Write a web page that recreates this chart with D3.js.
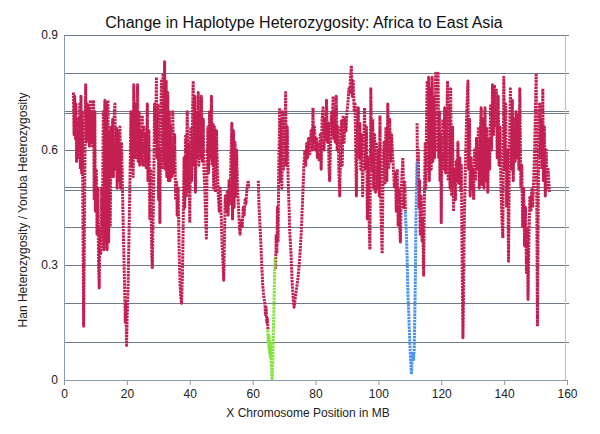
<!DOCTYPE html>
<html>
<head>
<meta charset="utf-8">
<script src="https://cdn.jsdelivr.net/npm/d3@7"></script>
<style>
  html, body { margin: 0; padding: 0; background: #fff; }
  svg { display: block; }
  text { font-family: "Liberation Sans", Arial, Helvetica, sans-serif; }
</style>
</head>
<body>
<svg id="chart" width="600" height="434"></svg>
<script>
// ---- data (MB position, Han/Yoruba heterozygosity ratio) ----
const title = "Change in Haplotype Heterozygosity: Africa to East Asia";
const xLabel = "X Chromosome Position in MB";
const yLabel = "Han Heterozygosity / Yoruba Heterozygosity";
const xTicks = [0, 20, 40, 60, 80, 100, 120, 140, 160];
const yTicks = [0, 0.3, 0.6, 0.9];
const gridValues = [0.1, 0.2, 0.3, 0.4, 0.496, 0.503, 0.6, 0.697, 0.702, 0.8, 0.9];

const redSeries = [
[3.0,0.75],[3.2,0.64],[3.4,0.74],[3.6,0.63],[3.8,0.72],[4.0,0.57],[4.2,0.66],[4.4,0.58],[4.6,0.68],[4.8,0.60],
[5.0,0.72],[5.2,0.55],[5.4,0.74],[5.6,0.54],[5.8,0.70],[6.0,0.45],[6.25,0.14],[6.5,0.40],[6.7,0.62],[6.9,0.77],
[7.1,0.62],[7.4,0.72],[7.6,0.63],[7.9,0.71],[8.1,0.61],[8.4,0.73],[8.6,0.62],[8.9,0.70],[9.1,0.61],[9.4,0.73],
[9.6,0.47],[9.8,0.70],[10.0,0.44],[10.3,0.55],[10.5,0.38],[10.8,0.50],[11.0,0.30],[11.2,0.24],[11.4,0.40],[11.7,0.33],
[12.0,0.50],[12.2,0.38],[12.5,0.70],[12.7,0.34],[13.0,0.73],[13.2,0.36],[13.5,0.72],[13.7,0.34],[14.0,0.73],[14.2,0.36],
[14.5,0.65],[14.7,0.40],[15.0,0.66],[15.2,0.53],[15.5,0.68],[15.7,0.53],[16.0,0.70],[16.2,0.72],[16.4,0.55],[16.7,0.66],
[16.9,0.50],[17.2,0.65],[17.5,0.52],[17.8,0.66],[18.0,0.50],[18.3,0.62],[18.6,0.50],[18.9,0.38],[19.2,0.27],[19.5,0.15],
[19.7,0.20],[19.9,0.09],[20.1,0.17],[20.4,0.25],[20.7,0.39],[21.0,0.53],[21.3,0.70],[21.5,0.56],[21.8,0.70],[22.0,0.53],
[22.2,0.77],[22.4,0.58],[22.7,0.72],[22.9,0.58],[23.2,0.70],[23.4,0.77],[23.6,0.57],[23.9,0.70],[24.1,0.56],[24.4,0.65],
[24.6,0.58],[24.9,0.69],[25.1,0.56],[25.4,0.66],[25.6,0.56],[25.9,0.64],[26.2,0.55],[26.5,0.72],[26.7,0.52],[27.0,0.65],
[27.3,0.42],[27.6,0.55],[27.9,0.33],[28.1,0.29],[28.3,0.40],[28.6,0.55],[28.8,0.72],[29.1,0.62],[29.4,0.79],[29.6,0.58],
[29.9,0.72],[30.1,0.47],[30.3,0.60],[30.5,0.41],[30.7,0.65],[31.0,0.78],[31.2,0.55],[31.5,0.80],[31.7,0.57],[32.0,0.83],
[32.2,0.55],[32.5,0.78],[32.7,0.53],[33.0,0.75],[33.2,0.52],[33.5,0.70],[33.7,0.52],[34.0,0.66],[34.3,0.53],[34.6,0.70],
[34.9,0.54],[35.2,0.64],[35.5,0.47],[35.8,0.52],[36.0,0.43],[36.3,0.50],[36.6,0.35],[36.9,0.25],[37.1,0.22],[37.4,0.20],
[37.7,0.28],[37.9,0.40],[38.2,0.58],[38.4,0.45],[38.7,0.64],[38.9,0.48],[39.2,0.70],[39.5,0.50],
[39.7,0.62],[40.0,0.41],[40.3,0.66],[40.6,0.52],[40.9,0.70],[41.1,0.78],[41.3,0.56],[41.6,0.74],[41.8,0.49],[42.1,0.70],
[42.4,0.58],[42.7,0.75],[42.9,0.56],[43.2,0.70],[43.5,0.58],[43.7,0.74],[44.0,0.57],[44.3,0.68],[44.5,0.55],[44.8,0.50],
[45.0,0.43],[45.3,0.37],[45.5,0.55],[45.8,0.66],[46.0,0.54],[46.3,0.70],[46.6,0.58],[46.9,0.74],[47.1,0.56],[47.4,0.67],
[47.6,0.50],[47.9,0.66],[48.2,0.49],[48.5,0.65],[48.8,0.55],[49.1,0.48],[49.4,0.44],[49.7,0.50],[50.0,0.43],[50.3,0.35],
[50.6,0.30],[50.8,0.26],[51.0,0.35],[51.3,0.48],[51.6,0.44],[51.9,0.49],[52.2,0.43],[52.5,0.52],[52.8,0.46],[53.1,0.58],
[53.4,0.67],[53.6,0.42],[53.9,0.65],[54.1,0.45],[54.4,0.62],[54.7,0.48],[54.9,0.60],[55.2,0.50],[55.5,0.45],[55.8,0.40],
[56.0,0.38],[56.3,0.42],[56.7,0.40],[57.0,0.45],[57.3,0.43],[57.6,0.47],[57.9,0.46],[58.2,0.50],[58.6,0.52],[58.8,0.50],
[60.3,null],
[61.8,0.52],[62.0,0.46],[62.3,0.41],[62.6,0.36],[62.9,0.30],[63.2,0.25],[63.5,0.22],[63.9,0.20],[64.1,0.17],[64.3,0.19],
[64.5,0.15],[64.7,0.16],[64.9,0.13],
[66.0,null],
[67.3,0.29],[67.5,0.38],[67.7,0.33],[67.9,0.45],[68.1,0.36],[68.3,0.55],[68.5,0.64],[68.6,0.71],[68.8,0.52],[69.0,0.68],
[69.3,0.50],[69.5,0.70],[69.8,0.55],[70.0,0.68],[70.3,0.60],[70.5,0.75],[70.7,0.56],[71.0,0.66],[71.3,0.52],[71.6,0.45],
[71.8,0.39],[72.2,0.33],[72.6,0.25],[73.0,0.20],[73.2,0.19],[73.5,0.21],[74.0,0.24],[74.5,0.27],[75.0,0.32],[75.5,0.39],
[76.0,0.49],[76.3,0.56],[76.6,0.60],[76.9,0.56],[77.2,0.62],[77.5,0.58],[77.8,0.63],[78.2,0.59],[78.6,0.65],[79.0,0.60],
[79.2,0.71],[79.4,0.62],[79.7,0.66],[80.0,0.60],[80.3,0.63],[80.6,0.58],[80.9,0.62],[81.2,0.57],[81.5,0.64],[81.8,0.55],
[82.1,0.68],[82.4,0.71],[82.7,0.60],[83.0,0.68],[83.3,0.63],[83.5,0.73],[83.8,0.62],[84.1,0.67],[84.3,0.55],[84.5,0.52],
[84.8,0.62],[85.1,0.70],[85.3,0.64],[85.6,0.74],[85.8,0.63],[86.1,0.70],[86.3,0.62],[86.6,0.74],[86.9,0.60],[87.2,0.66],
[87.4,0.55],[87.7,0.48],[88.0,0.60],[88.3,0.68],[88.5,0.56],[88.8,0.69],[89.1,0.62],[89.4,0.68],[89.7,0.65],[90.0,0.70],
[90.3,0.72],[90.6,0.76],[90.9,0.75],[91.2,0.80],[91.4,0.82],[91.7,0.74],[92.0,0.78],[92.3,0.70],[92.6,0.72],[92.8,0.60],
[93.0,0.48],[93.3,0.65],[93.6,0.71],[93.9,0.58],[94.1,0.67],[94.4,0.55],[94.7,0.64],[95.0,0.48],[95.3,0.60],[95.6,0.71],
[95.9,0.55],[96.2,0.66],[96.5,0.42],[96.8,0.58],[97.1,0.40],[97.3,0.34],[97.6,0.76],[97.9,0.55],[98.2,0.68],[98.5,0.50],
[98.8,0.64],[99.1,0.49],[99.4,0.62],[99.7,0.50],[100.0,0.60],[100.3,0.48],[100.5,0.69],[100.8,0.45],[101.0,0.38],[101.2,0.33],
[101.5,0.55],[101.8,0.62],[102.1,0.51],[102.4,0.66],[102.7,0.52],[103.0,0.72],[103.3,0.55],[103.6,0.68],[103.9,0.57],[104.2,0.64],
[104.5,0.59],[104.8,0.55],[105.1,0.50],[105.4,0.54],[105.7,0.44],[106.0,0.55],[106.3,0.40],[106.6,0.50],[106.8,0.40],[107.0,0.36],
[107.3,0.50],[107.6,0.55],[107.8,0.58],[108.1,0.45],[108.4,0.52],[108.6,0.44],
[110.5,null],
[112.3,0.67],[112.5,0.50],[112.7,0.60],[112.9,0.45],[113.1,0.52],[113.3,0.38],[113.6,0.48],[113.9,0.36],[114.1,0.42],[114.4,0.27],
[114.6,0.45],[114.9,0.62],[115.1,0.50],[115.3,0.65],[115.5,0.78],[115.7,0.55],[116.0,0.79],[116.2,0.52],[116.5,0.76],[116.8,0.55],
[117.1,0.79],[117.3,0.57],[117.6,0.74],[117.9,0.58],[118.2,0.80],[118.4,0.60],[118.7,0.78],
[119.0,0.80],[119.2,0.58],[119.4,0.70],[119.6,0.52],[119.8,0.64],[120.0,0.41],[120.2,0.60],[120.5,0.68],[120.8,0.55],[121.1,0.71],
[121.4,0.54],[121.7,0.66],[122.0,0.78],[122.2,0.52],[122.5,0.72],[122.8,0.50],[123.0,0.76],[123.3,0.48],[123.6,0.66],[123.9,0.44],
[124.2,0.55],[124.5,0.47],[124.8,0.57],[125.1,0.52],[125.3,0.62],[125.6,0.51],[125.9,0.58],[126.2,0.49],[126.4,0.56],[126.6,0.35],
[126.8,0.18],[126.9,0.11],[127.1,0.22],[127.3,0.40],[127.5,0.48],[127.8,0.60],[128.1,0.70],[128.5,0.78],[128.7,0.55],[129.0,0.68],
[129.2,0.48],[129.5,0.58],[129.8,0.50],[130.1,0.55],[130.3,0.47],[130.6,0.60],[130.9,0.52],[131.2,0.63],[131.5,0.55],[131.8,0.66],
[132.1,0.50],[132.4,0.64],[132.7,0.71],[133.0,0.51],[133.3,0.68],[133.6,0.50],[133.9,0.71],[134.2,0.52],[134.5,0.66],[134.8,0.49],
[135.1,0.63],[135.4,0.55],[135.7,0.72],[136.0,0.60],[136.3,0.77],[136.6,0.64],[136.9,0.77],[137.2,0.66],[137.5,0.76],[137.8,0.58],
[138.1,0.74],[138.4,0.56],[138.7,0.66],[139.0,0.50],[139.3,0.42],[139.6,0.37],[139.9,0.79],[140.2,0.55],[140.5,0.72],[140.8,0.45],
[141.1,0.60],[141.4,0.31],[141.7,0.60],[142.0,0.76],[142.3,0.55],[142.6,0.73],[142.9,0.52],[143.2,0.68],[143.5,0.57],[143.8,0.70],
[144.1,0.58],[144.4,0.69],[144.7,0.55],[145.0,0.76],[145.3,0.50],[145.6,0.56],[145.9,0.40],[146.2,0.50],[146.5,0.35],[146.8,0.45],
[147.1,0.28],[147.4,0.40],[147.6,0.21],[147.9,0.38],[148.2,0.48],[148.5,0.44],[148.8,0.50],[149.1,0.45],[149.4,0.52],[149.7,0.60],
[149.9,0.68],[150.2,0.80],[150.4,0.45],[150.6,0.14],[150.8,0.40],[151.0,0.60],[151.3,0.72],[151.5,0.58],[151.8,0.68],[152.0,0.55],
[152.3,0.76],[152.5,0.52],[152.8,0.66],[153.1,0.48],[153.4,0.60],[153.7,0.50],[154.0,0.55],[154.4,0.49]
];

const greenSeries = [
[64.8,0.13],[65.0,0.10],[65.1,0.12],[65.2,0.08],[65.3,0.11],[65.4,0.07],[65.5,0.10],[65.6,0.06],[65.7,0.09],[65.8,0.07],
[65.9,0.05],[66.0,0.03],[66.1,0.01],[66.2,0.0],[66.3,0.02],[66.4,0.05],[66.5,0.08],[66.6,0.12],[66.7,0.16],[66.8,0.20],
[66.9,0.24],[67.0,0.28],[67.2,0.32]
];

const blueSeries = [
[108.6,0.44],[108.8,0.40],[109.0,0.36],[109.2,0.30],[109.4,0.22],[109.6,0.19],[109.8,0.14],[110.0,0.10],[110.2,0.06],[110.4,0.03],
[110.5,0.015],[110.6,0.03],[110.8,0.06],[111.0,0.07],[111.2,0.05],[111.4,0.08],[111.5,0.12],[111.6,0.18],[111.8,0.28],[111.9,0.38],
[112.0,0.44],[112.1,0.50],[112.2,0.54],[112.3,0.57]
];

// ---- drawing ----
const svg = d3.select("#chart");
const x = d3.scaleLinear().domain([0, 160]).range([64, 567]);
const y = d3.scaleLinear().domain([0, 0.9]).range([380, 35]);

// grid lines
svg.append("g").selectAll("line").data(gridValues).join("line")
  .attr("x1", x(0)).attr("x2", x(160) + 2)
  .attr("y1", d => Math.round(y(d)) + 0.5).attr("y2", d => Math.round(y(d)) + 0.5)
  .attr("stroke", "#6f7c88").attr("stroke-width", 1);

// right border
svg.append("line")
  .attr("x1", x(160) - 1.5).attr("x2", x(160) - 1.5)
  .attr("y1", y(0.9)).attr("y2", y(0))
  .attr("stroke", "#b9c0c7").attr("stroke-width", 1);

// series
const line = d3.line()
  .defined(d => d[1] !== null)
  .x(d => x(d[0])).y(d => y(d[1]));

function drawSeries(data, color) {
  svg.append("path").datum(data)
    .attr("d", line)
    .attr("fill", "none")
    .attr("stroke", color)
    .attr("stroke-width", 3)
    .attr("stroke-linejoin", "round")
    .attr("stroke-dasharray", "2.4,0.8");
}
drawSeries(redSeries, "#c41f52");
drawSeries(greenSeries, "#84e63c");
drawSeries(blueSeries, "#4a94ee");

// axes
const xAxis = d3.axisBottom(x).tickValues(xTicks).tickSize(5).tickPadding(4).tickFormat(d3.format("d"));
const gx = svg.append("g").attr("transform", `translate(0,${y(0)})`).call(xAxis);
gx.select(".domain").attr("stroke", "#8a9aab");
gx.selectAll(".tick line").attr("stroke", "#8a9aab");
gx.selectAll("text").attr("font-size", 12).attr("fill", "#222")
  .attr("font-family", "Liberation Sans, Arial, sans-serif");

const yAxis = d3.axisLeft(y).tickValues(yTicks).tickSize(0).tickPadding(6)
  .tickFormat(d => d === 0 ? "0" : d3.format(".1f")(d));
const gy = svg.append("g").attr("transform", `translate(${x(0)},0)`).call(yAxis);
gy.select(".domain").attr("stroke", "#8a9aab");
gy.selectAll("text").attr("font-size", 12).attr("fill", "#222")
  .attr("font-family", "Liberation Sans, Arial, sans-serif");

// title and labels
svg.append("text").attr("x", 304).attr("y", 28).attr("text-anchor", "middle")
  .attr("font-size", 16).attr("fill", "#111").text(title);
svg.append("text").attr("x", 308).attr("y", 417).attr("text-anchor", "middle")
  .attr("font-size", 12).attr("fill", "#222").text(xLabel);
svg.append("text").attr("transform", "translate(27,210) rotate(-90)").attr("text-anchor", "middle")
  .attr("font-size", 12).attr("fill", "#222").text(yLabel);
</script>
</body>
</html>
